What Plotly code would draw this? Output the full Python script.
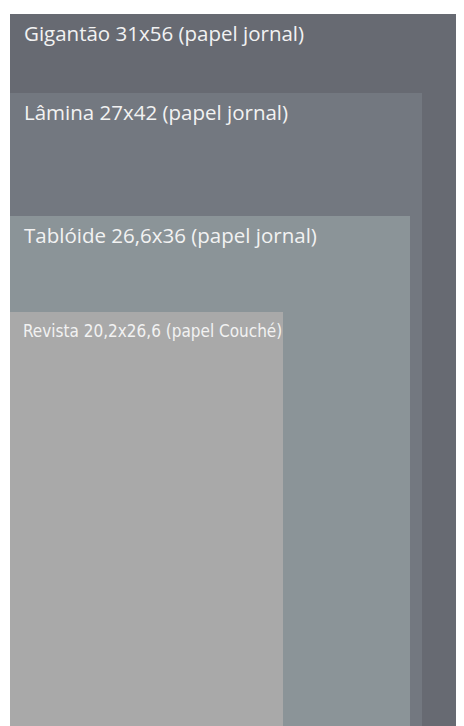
import plotly.graph_objects as go

names = ["Gigantão 31x56 (papel jornal)", "Lâmina 27x42 (papel jornal)",
         "Tablóide 26,6x36 (papel jornal)", "Revista 20,2x26,6 (papel Couché)"]
# drawn sizes (arbitrary units)
widths = [454, 412, 400, 273]
heights = [712, 633, 510, 414]
colors = ["#676a72", "#737880", "#8b9498", "#a9a9a9"]
fonts = ["Open Sans", "Open Sans", "Open Sans", "DejaVu Sans Condensed"]
sizes = [20.5, 20.5, 20.5, 17]

fig = go.Figure()
for n, w, h, c in zip(names, widths, heights, colors):
    fig.add_trace(go.Scatter(x=[0, w, w, 0, 0], y=[0, 0, h, h, 0], fill="toself",
                             fillcolor=c, mode="lines", line=dict(width=0),
                             hoverinfo="skip", showlegend=False, name=n))

for i, (n, h, f, s) in enumerate(zip(names, heights, fonts, sizes)):
    condensed = i == len(names) - 1
    fig.add_annotation(x=0, y=h, xref="x", yref="y", text=n, showarrow=False,
                       xanchor="left", yanchor="top", xshift=12 if not condensed else 11,
                       yshift=-7 if condensed else -3,
                       font=dict(family=f, size=s, color="#f2f2f2"))

fig.update_layout(width=456, height=718, margin=dict(l=2, r=0, t=6, b=0),
                  paper_bgcolor="white", plot_bgcolor="white",
                  xaxis=dict(range=[0, 454], visible=False, fixedrange=True),
                  yaxis=dict(range=[0, 712], visible=False, fixedrange=True))
fig.write_html("out.html")
